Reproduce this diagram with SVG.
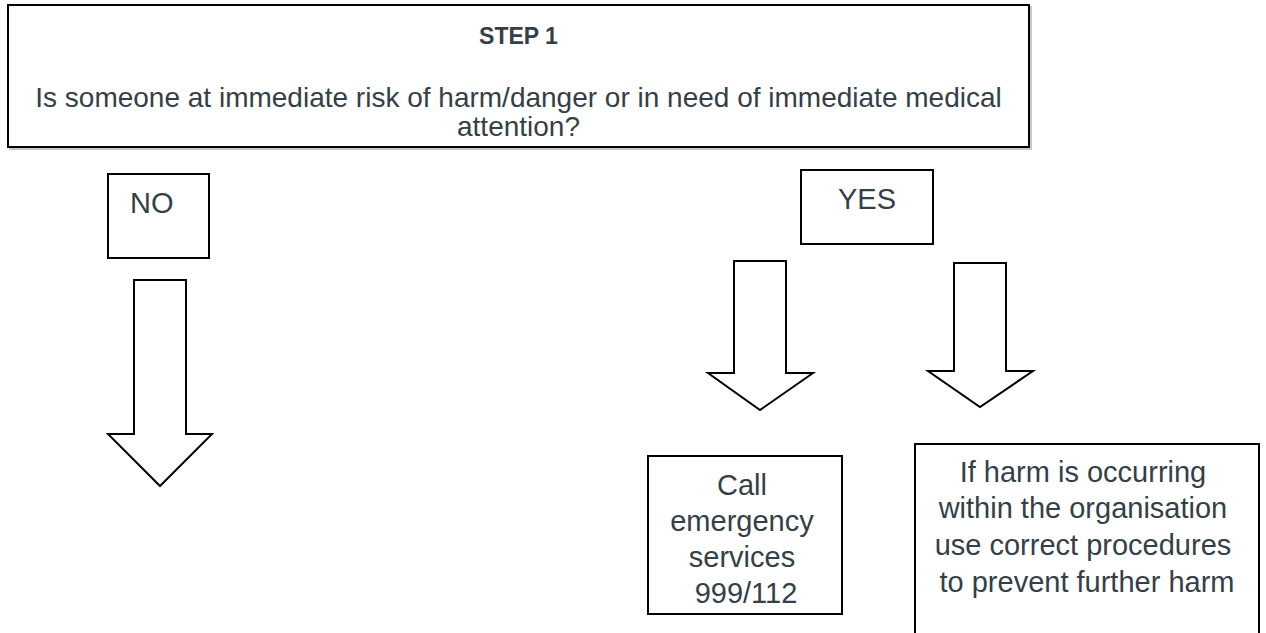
<svg xmlns="http://www.w3.org/2000/svg" width="1266" height="633" viewBox="0 0 1266 633">
  <style>
    .box { fill: #ffffff; stroke: #000000; stroke-width: 2; }
    .shadow { fill: none; stroke: #c8c8c8; stroke-width: 2; }
    .arrow { fill: #ffffff; stroke: #000000; stroke-width: 2; stroke-linejoin: miter; }
    .t { font-family: "Liberation Sans", Arial, sans-serif; fill: #343f49; }
    .q { font-size: 28px; }
    .b { font-size: 29px; }
    .h { font-size: 23px; font-weight: bold; }
  </style>
  <rect width="1266" height="633" fill="#ffffff"/>

  <g id="step1">
    <rect class="shadow" x="10" y="7" width="1021" height="142"/>
    <rect class="box" x="8" y="5" width="1021" height="142"/>
    <text class="t h" x="518.5" y="44" text-anchor="middle">STEP 1</text>
    <text class="t q" x="518.5" y="107" text-anchor="middle">Is someone at immediate risk of harm/danger or in need of immediate medical</text>
    <text class="t q" x="518.5" y="136" text-anchor="middle">attention?</text>
  </g>

  <g id="no">
    <rect class="box" x="108" y="174" width="101" height="84"/>
    <text class="t b" x="130" y="213">NO</text>
  </g>

  <g id="yes">
    <rect class="box" x="801" y="170" width="132" height="74"/>
    <text class="t b" x="867" y="209" text-anchor="middle">YES</text>
  </g>

  <g id="call">
    <rect class="box" x="648" y="456" width="194" height="158"/>
    <text class="t b" text-anchor="middle">
      <tspan x="746" y="495">Call</tspan>
      <tspan x="746" y="531">emergency</tspan>
      <tspan x="746" y="567">services</tspan>
      <tspan x="746" y="603">999/112</tspan>
    </text>
  </g>

  <g id="harm">
    <rect class="box" x="915" y="444" width="344" height="200"/>
    <text class="t b" text-anchor="middle">
      <tspan x="1087" y="482">If harm is occurring</tspan>
      <tspan x="1087" y="518">within the organisation</tspan>
      <tspan x="1087" y="555">use correct procedures</tspan>
      <tspan x="1087" y="592">to prevent further harm</tspan>
    </text>
  </g>

  <g id="connectors">
    <polygon class="arrow" points="134,280 186,280 186,434 212,434 160,486 108,434 134,434"/>
    <polygon class="arrow" points="734,261 786,261 786,373 813,373 760,410 708,373 734,373"/>
    <polygon class="arrow" points="954,263 1006,263 1006,371 1033,371 980,407 928,371 954,371"/>
  </g>
</svg>
